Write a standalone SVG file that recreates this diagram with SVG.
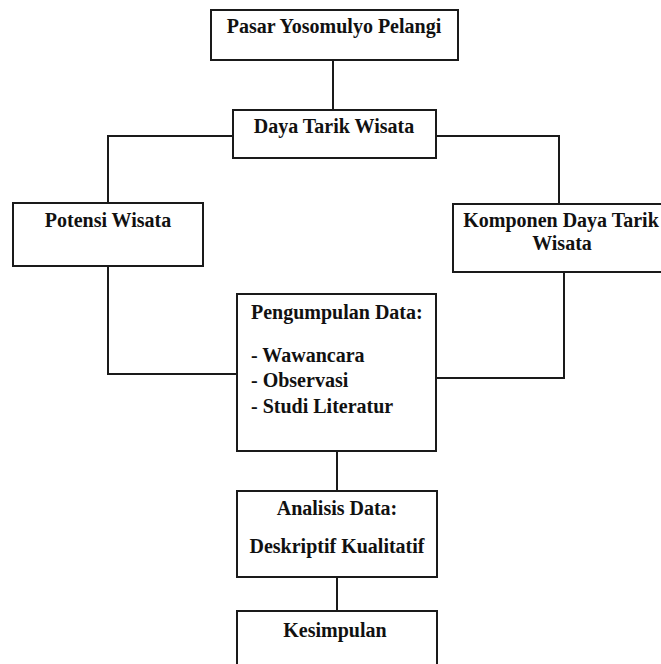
<svg xmlns="http://www.w3.org/2000/svg" width="661" height="664" viewBox="0 0 661 664">
<style>
rect{fill:#fff;stroke:#1a1a1a;stroke-width:2}
#connectors path{fill:none;stroke:#1a1a1a;stroke-width:2}
text{font-family:"Liberation Serif","Times New Roman",serif;font-weight:bold;font-size:20px;fill:#111}
.c{text-anchor:middle}
</style>
<rect width="661" height="664" style="fill:#fff;stroke:none"/>
<g id="connectors">
<path d="M333 60V110"/>
<path d="M233 136H108V203"/>
<path d="M436 136H559V204"/>
<path d="M108 266V374H237"/>
<path d="M564 272V378H436"/>
<path d="M337 451V491"/>
<path d="M337 577V611"/>
</g>
<g id="pasar"><rect x="211" y="10" width="247" height="50"/><text class="c" x="334" y="33">Pasar Yosomulyo Pelangi</text></g>
<g id="daya"><rect x="233" y="110" width="203" height="48"/><text class="c" x="334" y="133">Daya Tarik Wisata</text></g>
<g id="potensi"><rect x="13" y="203" width="190" height="63"/><text class="c" x="108" y="227">Potensi Wisata</text></g>
<g id="komponen"><rect x="453" y="204" width="210" height="68"/><text class="c" x="561" y="227">Komponen Daya Tarik</text><text class="c" x="562" y="250">Wisata</text></g>
<g id="pengumpulan"><rect x="237" y="294" width="199" height="157"/>
<text x="251" y="319">Pengumpulan Data:</text>
<text x="251" y="362">- Wawancara</text>
<text x="251" y="387">- Observasi</text>
<text x="251" y="413">- Studi Literatur</text></g>
<g id="analisis"><rect x="237" y="491" width="200" height="86"/><text class="c" x="337" y="515">Analisis Data:</text><text class="c" x="337" y="553">Deskriptif Kualitatif</text></g>
<g id="kesimpulan"><rect x="237" y="611" width="200" height="70"/><text class="c" x="335" y="637">Kesimpulan</text></g>
</svg>
